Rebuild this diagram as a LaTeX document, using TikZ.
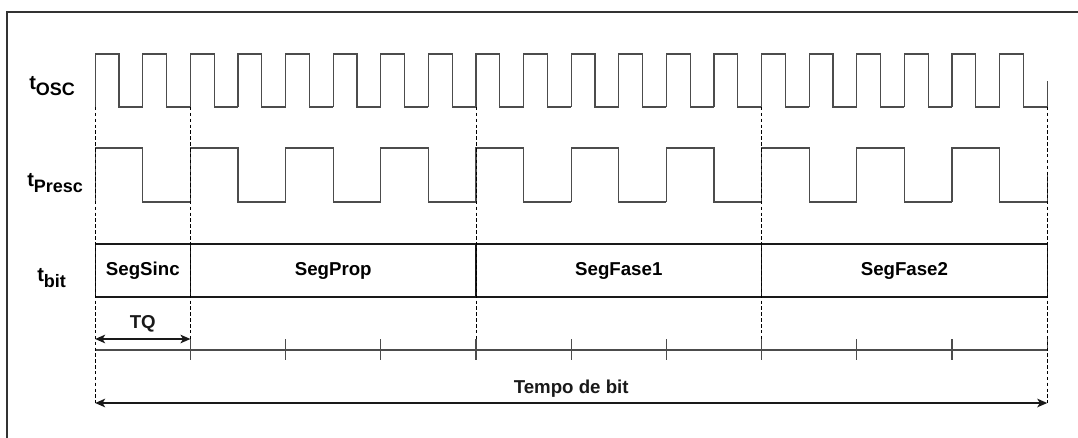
\documentclass[tikz,border=0pt]{standalone}
\usepackage{fontspec}
\setmainfont{Liberation Sans}
\usetikzlibrary{arrows.meta,positioning}
\tikzstyle{sig} = [draw=black!70, line width=0.9pt]
\tikzstyle{guide} = [black, line width=0.7pt, dash pattern=on 2.6pt off 1.8pt]
\tikzstyle{segbox} = [draw=black!90, line width=0.9pt, minimum height=39.75pt, inner sep=0pt, outer sep=0pt, font=\bfseries\fontsize{14}{16}\selectfont]
\tikzstyle{lbl} = [inner sep=0pt, font=\bfseries\fontsize{14}{16}\selectfont]
\tikzstyle{dim} = [{Stealth[length=7.5pt,width=6.5pt,inset=2pt]}-{Stealth[length=7.5pt,width=6.5pt,inset=2pt]}, line width=0.9pt, black!90]
\newcommand{\signame}[1]{{\fontsize{15}{17}\selectfont t}\raisebox{-5pt}{\fontsize{13.5}{15}\selectfont #1}}

\begin{document}
\begin{tikzpicture}[x=0.75pt, y=-0.75pt]
    % Page and frame
    \useasboundingbox (0,0) rectangle (1078,437);
    \clip (0,0) rectangle (1078,437);
    \draw[black!80, line width=0.9pt] (7,460) -- (7,12) -- (1100,12);

    % Signal names
    \node[lbl, anchor=base west] (osc) at (29,89) {\signame{OSC}};
    \node[lbl, anchor=base west] (presc) at (27,186) {\signame{Presc}};
    \node[lbl, anchor=base west] (bit) at (37,281) {\signame{bit}};

    % Oscillator clock (20 periods)
    \foreach \i in {0,...,19} {
        \draw[sig] ({95.2+\i*47.6},107) |- ({95.2+\i*47.6+23.8},54) |- ({95.2+(\i+1)*47.6},107);
    }
    \draw[sig] (1047.2,107) -- (1047.2,80.5);

    % Prescaler clock (10 periods)
    \foreach \i in {0,...,9} {
        \draw[sig] ({95.2+\i*95.2},202) |- ({95.2+\i*95.2+47.6},148) |- ({95.2+(\i+1)*95.2},202);
    }
    \draw[sig] (1047.2,202) -- (1047.2,175);

    % Bit segments
    \node[segbox, minimum width=71.4pt] (sinc) at (142.8,270.5) {SegSinc};
    \node[segbox, minimum width=214.2pt, right=0pt of sinc] (prop) {SegProp};
    \node[segbox, minimum width=214.2pt, right=0pt of prop] (fase1) {SegFase1};
    \node[segbox, minimum width=214.2pt, right=0pt of fase1] (fase2) {SegFase2};

    % Time quanta axis
    \foreach \i in {0,...,10} {
        \coordinate (q\i) at ({95.2+\i*95.2},350);
    }
    \draw[sig] (q0) -- (q10);
    \foreach \i in {1,...,9} {
        \draw[sig] ([yshift=8.25pt]q\i) -- ([yshift=-7.5pt]q\i);
    }
    \draw[sig] ([yshift=9.75pt]q10) -- (q10);

    % Guide lines
    \coordinate (tq0) at (95.2,339);
    \coordinate (tq1) at (190.4,339);
    \coordinate (tb0) at (95.2,403);
    \coordinate (tb1) at (1047.2,403);
    \draw[guide] (95.2,107) -- (tb0);
    \draw[guide] (1047.2,107) -- (tb1);
    \foreach \x in {190.4, 476, 761.6} {
        \draw[guide] (\x,107) -- (\x,339);
    }

    % TQ and bit time
    \draw[dim] (tq0) -- node[lbl, above=5pt] (tq) {TQ} (tq1);
    \draw[dim] (tb0) -- node[lbl, above=4pt] (tbit) {Tempo de bit} (tb1);
\end{tikzpicture}
\end{document}
